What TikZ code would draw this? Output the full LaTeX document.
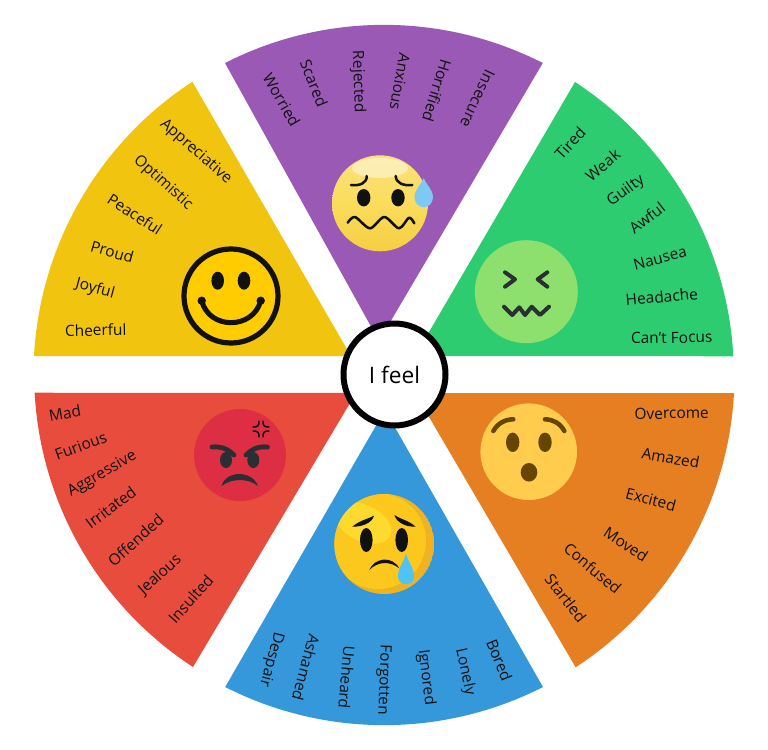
\documentclass[tikz,border=0pt]{standalone}
\usepackage{fontspec}
\setmainfont{Open Sans}
\definecolor{cpurple}{HTML}{9B59B6}
\definecolor{cgreen}{HTML}{2ECC71}
\definecolor{cyellow}{HTML}{F1C40F}
\definecolor{cred}{HTML}{E74C3C}
\definecolor{cblue}{HTML}{3498DB}
\definecolor{corange}{HTML}{E67E22}
\definecolor{cink}{HTML}{111111}
\definecolor{cslate}{HTML}{292F33}
\definecolor{cbrown}{HTML}{664500}
\definecolor{cwarytop}{HTML}{FAE27C}
\definecolor{cwarymid}{HTML}{FBDC5C}
\definecolor{cwarylow}{HTML}{F6CE42}
\definecolor{csweat}{HTML}{7EC8F5}
\definecolor{csick}{HTML}{8DE06D}
\definecolor{cshock}{HTML}{FFCC4D}
\definecolor{csadedge}{HTML}{EFB220}
\definecolor{csadface}{HTML}{FCC81E}
\definecolor{csadglow}{HTML}{FFDA2E}
\definecolor{ctear}{HTML}{4FC3F7}
\definecolor{cangry}{HTML}{DD2E44}
\definecolor{csmile}{HTML}{FFCC00}
\tikzset{
  every picture/.style={line cap=round, line join=round},
  word/.style={font=\fontsize{11.6}{13}\selectfont, text=cink, inner sep=0pt},
  hub/.style={circle, draw=black, fill=white, line width=4.5pt, minimum size=76.5pt, inner sep=0pt, font=\fontsize{17}{20}\selectfont},
  stroke/.style={draw=#1, line width=3pt},
  stroke/.default=cink,
}
\begin{document}
\begin{tikzpicture}[x=0.75pt, y=-0.75pt]
  \useasboundingbox (0,0) rectangle (768,750);
  \foreach \col/\ax/\ay/\bx/\by/\s/\e in {
    cpurple/379/341/225/63/-117/-63,
    cgreen/415/356/575/82/-56.9/-3.1,
    corange/415/393/734/393/3.1/56.9,
    cblue/385/410/543/687/63/117,
    cred/356/393/193/667/123.1/176.9,
    cyellow/351/356/34/356/-176.9/-123.1} {
    \fill[\col] (\ax,\ay) -- (\bx,\by) arc[start angle=\s, end angle=\e, radius=350] -- cycle;
  }
  \foreach \x/\y/\a/\t [count=\i] in {
    281.7/100/-60/Worried, 314/83.3/-68/Scared, 358/81.7/-88/Rejected,
    400/81.7/-100/Anxious, 437/90.7/-107/Horrified, 477.5/99/-115/Insecure} {
    \node[word, rotate=\a] (worry\i) at (\x,\y) {\t};
  }
  \foreach \x/\y/\a/\t [count=\i] in {
    570/143/47/Tired, 602.7/165/40/Weak, 626/191/36/Guilty, 647/217.7/38/Awful,
    660/258/15/Nausea, 661.7/296.7/5/Headache, 671.7/337.7/1/Can’t Focus} {
    \node[word, rotate=\a] (sick\i) at (\x,\y) {\t};
  }
  \foreach \x/\y/\a/\t [count=\i] in {
    671.7/413.3/1/Overcome, 670.7/457.7/-10/Amazed, 651/499.3/-15/Excited,
    626/544.3/-33/Moved, 592.7/568.3/-40/Confused, 565.7/598.3/-52/Startled} {
    \node[word, rotate=\a] (shock\i) at (\x,\y) {\t};
  }
  \foreach \x/\y/\a/\t [count=\i] in {
    271/659.3/-105/Despair, 306/667.3/-105/Ashamed, 346.7/677.3/-95/Unheard,
    383.3/680/-92/Forgotten, 426/677.3/-83/Ignored, 465/671.7/-78/Lonely, 499.3/660/-68/Bored} {
    \node[word, rotate=\a] (sad\i) at (\x,\y) {\t};
  }
  \foreach \x/\y/\a/\t [count=\i] in {
    65/413.3/10/Mad, 80.7/445.7/20/Furious, 102.3/474/30/Aggressive, 110.7/507.3/37/Irritated,
    135.7/540/42/Offended, 160/575/42/Jealous, 190.7/599/48/Insulted} {
    \node[word, rotate=\a] (angry\i) at (\x,\y) {\t};
  }
  \foreach \x/\y/\a/\t [count=\i] in {
    195.7/151.7/-41/Appreciative, 163/182.7/-42/Optimistic, 135/214.3/-33/Peaceful,
    112.3/251.7/-16/Proud, 95/289/-15/Joyful, 95.7/330/1/Cheerful} {
    \node[word, rotate=\a] (happy\i) at (\x,\y) {\t};
  }

  \shade[top color=cwarytop, bottom color=cwarylow, middle color=cwarymid] (380,203.3) circle[radius=48];
  \fill[white, opacity=.45] (380,168) ellipse[x radius=28, y radius=10];
  \fill[cink] (363.7,197.7) ellipse[x radius=6.7, y radius=8.7];
  \fill[cink] (398,197.7) ellipse[x radius=6.7, y radius=8.7];
  \draw[stroke, line width=1.9pt] (351,185) .. controls (360,186) and (367,183) .. (366.7,176);
  \draw[stroke, line width=1.9pt] (395.7,176) .. controls (396,183) and (403,186) .. (412.3,185);
  \draw[stroke, line width=1.9pt] plot[smooth] coordinates {(347.7,222.7) (355,217) (370,228.3) (384.3,217) (399,228.3) (409,217.7) (414.3,223.3)};
  \fill[csweat] (423.7,178.3) .. controls (421,185) and (414.5,189) .. (414.5,197.5) arc[start angle=180, end angle=0, x radius=9.2, y radius=9.8] .. controls (432.9,189) and (426.4,185) .. cycle;

  \fill[csick] (526.3,291.7) circle[radius=51.5];
  \draw[stroke=cslate] (505,272.3) -- (515,279.3) -- (505,286.7);
  \draw[stroke=cslate] (547.3,272.3) -- (537.7,279.3) -- (547.3,286.7);
  \draw[stroke=cslate] (504,306.7) -- (512.3,315) -- (519.3,307.3) -- (525,315) -- (531.7,306.7) -- (540,315) -- (549,306.7);

  \fill[cshock] (528.7,451.7) circle[radius=48.3];
  \fill[cbrown] (512.7,442.3) ellipse[x radius=6.7, y radius=9.7];
  \fill[cbrown] (545,442.3) ellipse[x radius=6.7, y radius=9.7];
  \fill[cbrown] (529,472.3) ellipse[x radius=8.3, y radius=9.3];
  \draw[stroke=cbrown, line width=3.4pt] (493.3,431) .. controls (498,423) and (505,419.5) .. (513.3,419.3);
  \draw[stroke=cbrown, line width=3.4pt] (545,419.3) .. controls (553,419.5) and (560,423) .. (564.3,431);

  \begin{scope}
    \clip (384.3,544) circle[radius=50];
    \fill[csadedge] (384.3,544) circle[radius=50];
    \fill[csadface] (378,541) circle[radius=48];
    \fill[csadglow, rotate around={-25:(363,523)}] (363,523) ellipse[x radius=30, y radius=18];
  \end{scope}
  \fill[cink] (366.3,540) ellipse[x radius=6.3, y radius=12];
  \fill[cink] (401.7,540) ellipse[x radius=6.3, y radius=12];
  \fill[cink] (352.3,526.7) .. controls (360,520) and (368,519) .. (374,515.7) .. controls (372,523) and (362,527) .. cycle;
  \fill[cink] (415.7,526.7) .. controls (408,520) and (400,519) .. (394.3,515) .. controls (397,523) and (406,527) .. cycle;
  \fill[cink] (369.3,570) .. controls (374,558) and (392,555) .. (399.3,568.3) .. controls (390,561) and (378,561) .. cycle;
  \fill[ctear] (406,553.3) .. controls (404,562) and (398,568) .. (398,576.5) arc[start angle=180, end angle=0, x radius=8, y radius=7.8] .. controls (414,568) and (408,562) .. cycle;

  \fill[cangry] (240,455) circle[radius=46];
  \fill[cslate] (226,460) ellipse[x radius=6, y radius=8];
  \fill[cslate] (253.3,460) ellipse[x radius=6, y radius=8];
  \draw[stroke=cslate, line width=3.6pt] (212,447) .. controls (222,446) and (229,450) .. (234,455);
  \draw[stroke=cslate, line width=3.6pt] (267.5,447) .. controls (257,446) and (251,450) .. (246,455);
  \fill[cslate] (221.5,486) .. controls (226,470) and (252,470) .. (258,486) .. controls (248,478) and (232,478) .. cycle;
  \foreach \r in {0,90,180,270} {
    \draw[cink, line width=1.1pt, rotate around={\r:(261,429)}] (259,421) .. controls (259,426) and (258,427) .. (253,427);
  }

  \fill[csmile] (231,296) circle[radius=47];
  \draw[cink, line width=3.9pt] (231,296) circle[radius=47];
  \fill[cink] (217.7,280.7) ellipse[x radius=6.3, y radius=9];
  \fill[cink] (244,280.7) ellipse[x radius=6.3, y radius=9];
  \draw[cink, line width=3.8pt] (201.7,300.7) .. controls (209,330) and (253,330) .. (260.7,300.7);
  \fill[cink] (201.7,300.7) circle[radius=4.2];
  \fill[cink] (260.7,300.7) circle[radius=4.2];

  \node[hub] (feel) at (394.5,374.5) {I feel};
\end{tikzpicture}
\end{document}
